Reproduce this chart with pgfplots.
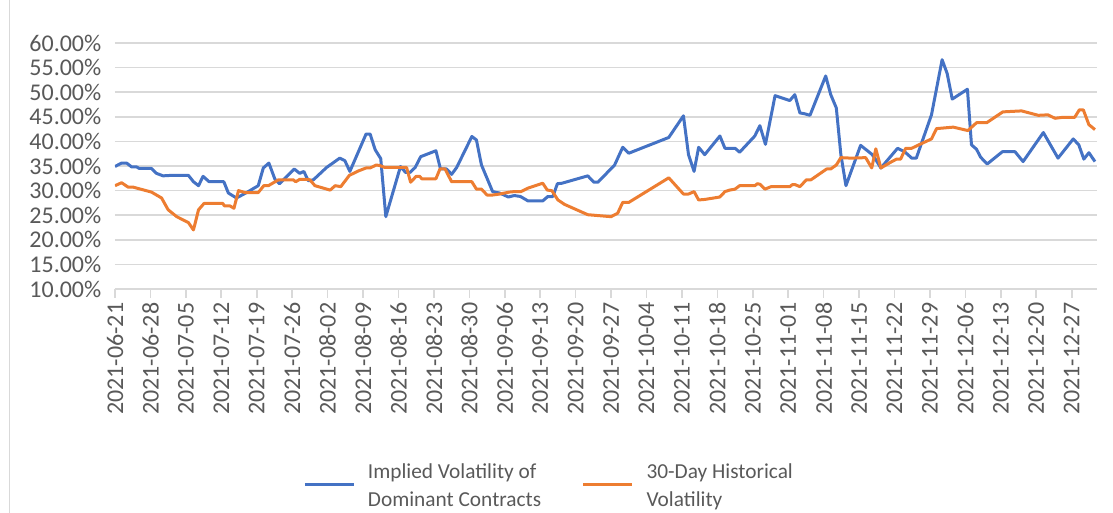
\documentclass[border=0pt]{standalone}
\usepackage{fontspec}
\setmainfont{Carlito}
\usepackage{pgfplots}
\pgfplotsset{compat=1.18}
\definecolor{ivblue}{HTML}{4472C4}
\definecolor{hvorange}{HTML}{ED7D31}
\definecolor{txtgray}{HTML}{595959}
\definecolor{gridgray}{HTML}{D9D9D9}
\begin{document}
\begin{tikzpicture}
\begin{axis}[
  at={(0pt,0pt)}, anchor=south west,
  scale only axis, width=736.5pt, height=184.5pt,
  xmin=0, xmax=194, ymin=10, ymax=60,
  axis x line*=bottom, axis y line*=left,
  x axis line style={gridgray, line width=1.2pt, -},
  y axis line style={draw=none, -},
  ytick={10,15,...,60},
  ymajorgrids, grid style={gridgray, line width=1.2pt},
  ytick style={draw=none},
  xtick={0,7,...,189},
  xticklabels={2021-06-21,2021-06-28,2021-07-05,2021-07-12,2021-07-19,2021-07-26,2021-08-02,2021-08-09,2021-08-16,2021-08-23,2021-08-30,2021-09-06,2021-09-13,2021-09-20,2021-09-27,2021-10-04,2021-10-11,2021-10-18,2021-10-25,2021-11-01,2021-11-08,2021-11-15,2021-11-22,2021-11-29,2021-12-06,2021-12-13,2021-12-20,2021-12-27},
  xtick style={gridgray, line width=1.2pt},
  tick align=outside, major tick length=6.75pt,
  x tick label style={rotate=90, anchor=east, font=\fontsize{18}{22}\selectfont, text=txtgray},
  y tick label style={font=\fontsize{18}{22}\selectfont, text=txtgray},
  yticklabel={\pgfmathprintnumber[fixed,fixed zerofill,precision=2]{\tick}\%},
  /pgf/number format/assume math mode=true,
  legend columns=2,
  legend style={at={(0.1874,-0.7629)}, anchor=west, draw=none, fill=none,
    font=\fontsize{16}{21}\selectfont, text=txtgray,
    /tikz/every even column/.append style={column sep=28.5pt},
    cells={anchor=west}},
  legend image code/.code={\draw[#1, line width=2.25pt] (0pt,-5.5pt) -- (36.75pt,-5.5pt); \path (44.25pt,0pt);},
]
\addplot[ivblue, line width=2.25pt, line join=round] coordinates {
(0,34.9) (1.3,35.6) (2.3,35.6) (3.3,34.8) (4.3,34.8) (4.8,34.5) (7.2,34.5) (8.2,33.5) (9.5,33.0) (11.2,33.1)
(14.5,33.1) (15.5,31.8) (16.5,31.0) (17.4,32.9) (18.6,31.8) (21.5,31.8) (22.4,29.5) (24.0,28.5) (26.0,29.6) (28.3,31.0)
(29.3,34.6) (30.4,35.6) (31.6,32.3) (32.5,31.4) (35.4,34.4) (36.5,33.5) (37.3,33.9) (38.2,32.0) (39.2,32.2) (41.8,34.7)
(44.4,36.6) (45.4,36.1) (46.4,33.9) (49.6,41.5) (50.4,41.5) (51.4,38.3) (52.5,36.5) (53.5,24.7) (56.4,34.9) (57.4,33.7)
(58.3,33.7) (59.3,34.7) (60.4,36.9) (63.4,38.1) (64.3,34.4) (65.5,34.4) (66.5,33.3) (67.5,34.7) (70.5,41.0) (71.4,40.3)
(72.4,35.2) (74.6,29.8) (76.0,29.5) (77.7,28.7) (78.9,29.0) (80.1,28.8) (81.6,27.9) (84.5,27.9) (85.5,28.8) (86.5,28.8)
(87.4,31.4) (88.3,31.5) (93.4,33.0) (94.6,31.7) (95.4,31.7) (98.7,35.2) (100.3,38.8) (101.5,37.6) (109.4,40.8) (112.3,45.2)
(113.3,37.3) (114.4,33.9) (115.3,38.8) (116.5,37.3) (119.5,41.1) (120.5,38.6) (122.5,38.6) (123.4,37.8) (126.4,41.1) (127.4,43.2)
(128.5,39.4) (130.4,49.3) (133.3,48.3) (134.3,49.5) (135.3,45.8) (136.3,45.6) (137.3,45.3) (140.4,53.3) (141.4,49.5) (142.5,46.8)
(143.4,37.3) (144.4,31.0) (147.3,39.2) (149.5,37.4) (150.1,36.6) (151.3,34.6) (154.6,38.6) (156.0,37.9) (157.4,36.6) (158.3,36.6)
(161.3,45.4) (163.4,56.6) (164.4,53.8) (165.4,48.6) (168.4,50.6) (169.2,39.3) (170.2,38.4) (171.0,36.8) (172.3,35.4) (175.3,37.9)
(177.8,37.9) (179.4,35.9) (183.4,41.8) (186.3,36.6) (189.3,40.5) (190.4,39.3) (191.4,36.4) (192.4,37.7) (193.6,35.9)
};
\addlegendentry{\begin{tabular}{@{}l@{}}Implied Volatility of\\Dominant Contracts\end{tabular}}
\addplot[hvorange, line width=2.25pt, line join=round] coordinates {
(0,31.0) (1.3,31.6) (2.6,30.7) (3.6,30.7) (7.2,29.7) (9.2,28.5) (10.5,26.1) (12.2,24.7) (14.5,23.5) (15.5,22.0)
(16.5,26.1) (17.6,27.4) (21.3,27.4) (21.6,26.9) (22.7,26.9) (23.5,26.4) (24.4,30.0) (25.7,29.6) (28.3,29.6) (29.4,31.0)
(30.3,31.0) (32.3,32.2) (35.2,32.2) (35.7,31.8) (36.5,32.3) (37.5,32.3) (38.5,32.2) (39.5,31.0) (42.5,30.1) (43.5,31.0)
(44.6,30.8) (46.3,33.1) (48.1,34.0) (49.6,34.6) (50.4,34.6) (51.6,35.2) (52.3,35.1) (53.3,34.7) (57.6,34.7) (58.4,31.7)
(59.5,32.9) (60.2,32.9) (60.6,32.4) (63.4,32.4) (64.2,34.4) (65.2,34.4) (66.5,31.8) (70.5,31.8) (71.4,30.3) (72.4,30.3)
(73.5,29.1) (74.6,29.1) (76.0,29.3) (77.9,29.7) (78.9,29.8) (80.2,29.8) (81.6,30.5) (84.5,31.5) (85.4,30.1) (86.3,30.0)
(87.5,28.1) (88.8,27.2) (93.4,25.1) (98.0,24.7) (99.3,25.4) (100.3,27.6) (101.5,27.6) (109.4,32.6) (112.3,29.3) (113.3,29.3)
(114.4,29.8) (115.3,28.1) (116.5,28.2) (119.5,28.7) (120.5,29.8) (121.4,30.1) (122.5,30.3) (123.4,31.0) (126.4,31.0) (126.9,31.4)
(127.4,31.3) (128.4,30.3) (129.6,30.8) (133.3,30.8) (133.8,31.2) (134.4,31.2) (135.3,30.8) (136.6,32.2) (137.5,32.2) (140.6,34.4)
(141.4,34.4) (142.5,35.2) (143.4,36.7) (145.4,36.6) (148.3,36.7) (149.5,34.6) (150.3,38.5) (151.3,34.6) (153.3,35.8) (154.4,36.4)
(155.2,36.4) (156.2,38.6) (157.4,38.6) (159.0,39.4) (161.3,40.5) (162.3,42.6) (165.6,42.9) (168.5,42.2) (170.2,43.8) (172.2,43.8)
(175.4,46.0) (179.1,46.2) (182.4,45.3) (184.3,45.4) (185.7,44.7) (187.3,44.9) (189.6,44.9) (190.5,46.4) (191.3,46.4) (192.4,43.4)
(193.6,42.4)
};
\addlegendentry{\begin{tabular}{@{}l@{}}30-Day Historical\\Volatility\end{tabular}}
\end{axis}
\draw[gridgray, line width=0.75pt] (-78.75pt,-168pt) -- (-78.75pt,216.75pt);
\pgfresetboundingbox
\path[use as bounding box] (-86.25pt,-168pt) rectangle (748.5pt,216.75pt);
\end{tikzpicture}
\end{document}
